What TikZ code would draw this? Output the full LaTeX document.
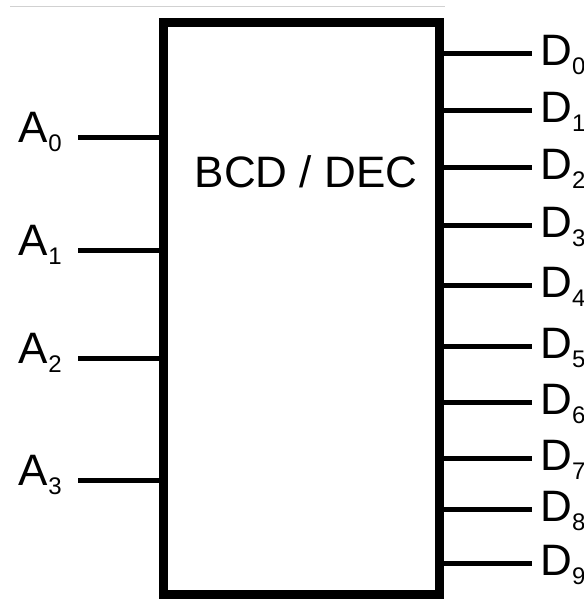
\documentclass[tikz,border=0pt]{standalone}
\usepackage{fontspec}
\setmainfont{Liberation Sans}
\usepackage{tikz}
\usetikzlibrary{positioning}
\newcommand{\sub}[1]{\raisebox{-4.5pt}{\fontsize{12}{12}\selectfont #1}}
\tikzset{
  chip/.style={draw, line width=4.5pt, minimum width=138pt, minimum height=286pt, inner sep=0pt},
  pin/.style={line width=2.5pt},
  lbl/.style={inner sep=0pt, font=\fontsize{22}{26}\selectfont}
}

\begin{document}
\begin{tikzpicture}[x=0.5pt,y=-0.5pt]
\useasboundingbox (0,0) rectangle (584,601);
\draw[black!18, line width=0.5pt] (10,6) -- (445,6);
\node[chip] (dec) at (301,308) {};
\node[lbl, anchor=base] (title) at (306,187) {BCD / DEC};
% address inputs
\foreach \i/\y in {0/137,1/250,2/358,3/480} {
\coordinate (in\i) at (78,\y);
\node[lbl, anchor=mid east, xshift=-8pt] (a\i) at (in\i) {A\sub{\i}};
\draw[pin] (in\i) -- (in\i -| dec.west);
}
% decoded outputs
\foreach \i/\y in {0/53,1/110,2/167,3/225,4/285,5/346,6/402,7/458,8/509,9/563} {
\coordinate (out\i) at (532,\y);
\node[lbl, anchor=mid west, xshift=4pt, yshift=-3.5pt] (d\i) at (out\i) {D\sub{\i}};
\draw[pin] (out\i -| dec.east) -- (out\i);
}
\end{tikzpicture}
\end{document}
